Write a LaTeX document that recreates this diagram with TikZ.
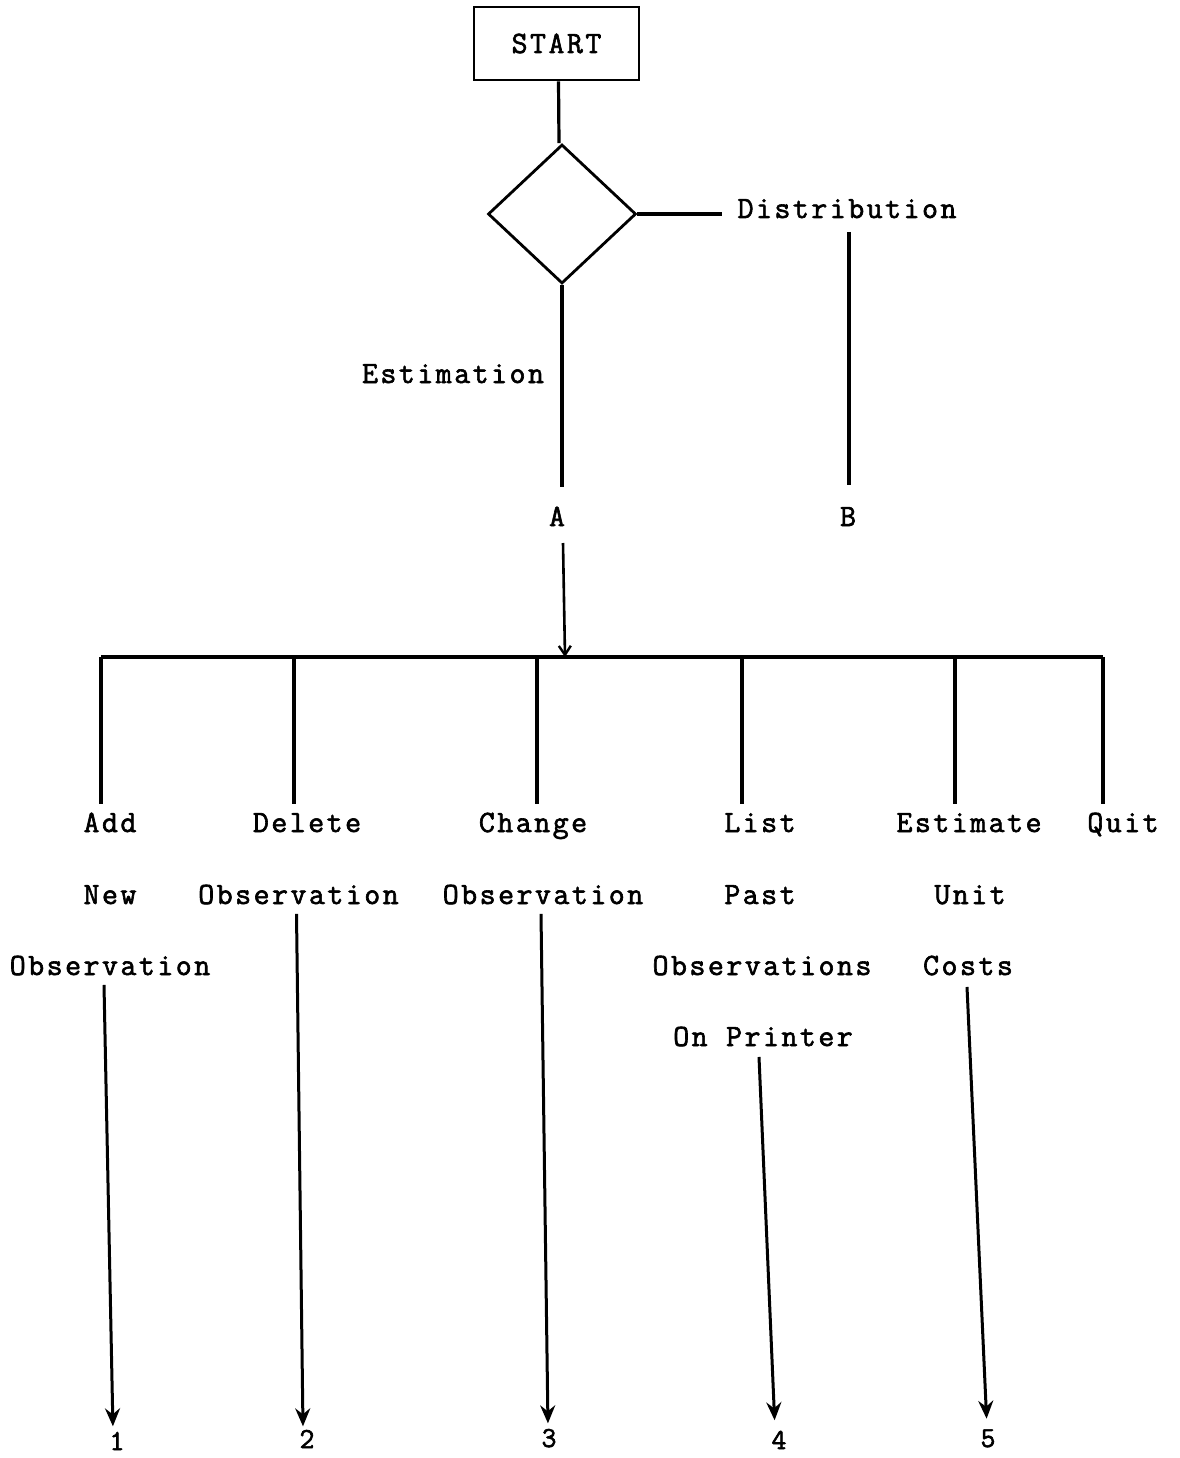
\documentclass[tikz,border=0pt]{standalone}
\usepackage{fontspec}
\newfontfamily\lmono{Latin Modern Mono}[LetterSpace=8,FakeBold=2]
\usetikzlibrary{shapes.geometric,arrows.meta}
\begin{document}
\begin{tikzpicture}[x=1pt,y=-1pt,
  line width=3.2pt,
  lbl/.style={inner sep=0pt,anchor=base,font=\lmono\fontsize{31}{31}\selectfont},
  num/.style={inner sep=0pt,anchor=base,font=\lmono\fontsize{29}{29}\selectfont},
  flow/.style={line width=3pt},
  bigtip/.style={-{Stealth[length=18pt,width=15pt,inset=6pt]}},
  smalltip/.style={-{Straight Barb[length=9pt,width=12pt,line width=2.4pt]}}]
\useasboundingbox[fill=white] (0,0) rectangle (1179,1458);

% top
\node[draw,line width=2.8pt,minimum width=165pt,minimum height=73pt,inner sep=0pt,
  font=\lmono\fontsize{31}{31}\selectfont] (start) at (556.5,43.5) {START};
\node[draw,diamond,line width=2.8pt,minimum width=148pt,minimum height=139pt,inner sep=0pt] (dec) at (562,214) {};
\node[lbl,anchor=base west] (dist) at (736,218) {Distribution};
\node[lbl] (est) at (453,383) {Estimation};
\node[lbl] (A) at (557,526) {A};
\node[lbl] (B) at (848,526) {B};

\draw ([xshift=2pt]start.south) -- ([xshift=-3pt]dec.north);
\draw[shorten >=14pt] (dec.east) -- (dist.west |- dec.east);
\draw[shorten <=12pt,shorten >=20pt] (dist.south -| 849,0) -- (B.north -| 849,0);
\draw[shorten >=18pt] (dec.south) -- (dec.south |- A.north);
\draw[smalltip,line width=2.6pt] ([xshift=6pt,yshift=-17pt]A.base) coordinate (a0) -- (565,657) coordinate (bm);

% bar
\coordinate (b1) at (101,657);
\coordinate (b2) at (294,657);
\coordinate (b3) at (537,657);
\coordinate (b4) at (742,657);
\coordinate (b5) at (955,657);
\coordinate (b6) at (1103,657);
\draw[line width=3.4pt] (b1) -- (b6);

% option labels
\node[lbl] (add) at (110,832) {Add};
\node[lbl] (new) at (110,904) {New};
\node[lbl] (obs1) at (110,975) {Observation};
\node[lbl] (del) at (307,832) {Delete};
\node[lbl] (obs2) at (298.5,904) {Observation};
\node[lbl] (chg) at (533,832) {Change};
\node[lbl] (obs3) at (543,904) {Observation};
\node[lbl] (list) at (760,832) {List};
\node[lbl] (past) at (760,904) {Past};
\node[lbl] (obs4) at (762,975) {Observations};
\node[lbl] (prn) at (763,1046) {On Printer};
\node[lbl] (esti) at (969,832) {Estimate};
\node[lbl] (unit) at (970,904) {Unit};
\node[lbl] (cost) at (968,975) {Costs};
\node[lbl] (quit) at (1123,832) {Quit};

\foreach \b/\n in {b1/add,b2/del,b3/chg,b4/list,b5/esti,b6/quit}
  \draw[shorten >=7pt] (\b) -- (\b |- \n.north);

% numbers
\node[num] (n1) at (117,1450) {1};
\node[num] (n2) at (307,1448) {2};
\node[num] (n3) at (549,1447) {3};
\node[num] (n4) at (779,1449) {4};
\node[num] (n5) at (988,1447) {5};

\draw[flow,bigtip,shorten >=4pt] ([xshift=-6pt,yshift=-8pt]obs1.south) -- ([xshift=-4pt]n1.north);
\draw[flow,bigtip,shorten >=2pt] ([xshift=-2pt,yshift=-8pt]obs2.south) -- ([xshift=-4pt]n2.north);
\draw[flow,bigtip,shorten >=4pt] ([xshift=-2pt,yshift=-8pt]obs3.south) -- ([xshift=-1pt]n3.north);
\draw[flow,bigtip,shorten >=9pt] ([xshift=-4pt,yshift=-9pt]prn.south) -- ([xshift=-4pt]n4.north);
\draw[flow,bigtip,shorten >=9pt] ([xshift=-1pt,yshift=-10pt]cost.south) -- ([xshift=-1pt]n5.north);
\end{tikzpicture}
\end{document}
